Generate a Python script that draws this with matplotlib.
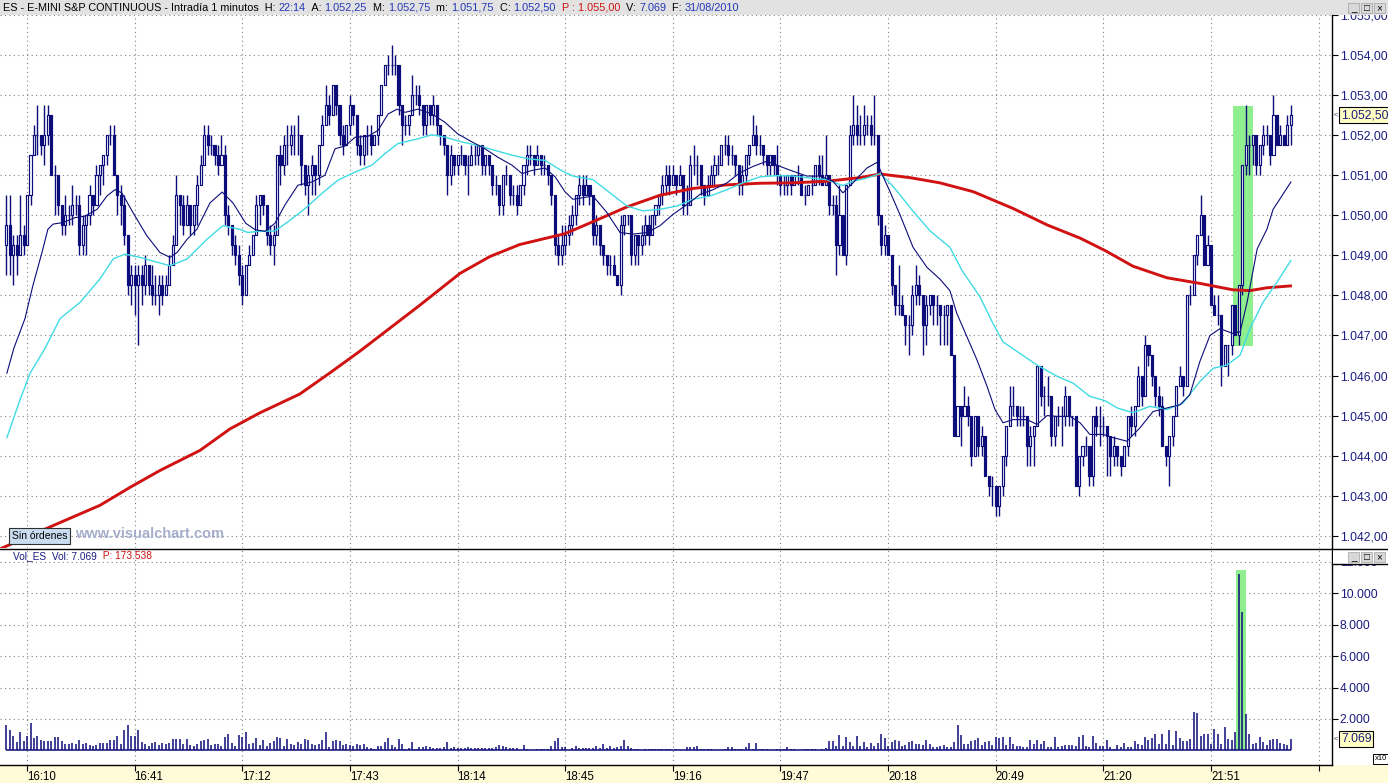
import numpy as np
import matplotlib.pyplot as plt
from matplotlib.patches import Rectangle
from matplotlib.collections import LineCollection, PatchCollection
from matplotlib.lines import Line2D
from matplotlib.transforms import blended_transform_factory


###########################################################################
#                                  DATA                                   #
###########################################################################

# ES e-mini S&P, 1 minute bars, 31/08/2010, first bar 16:04, last bar 22:14
start_minute = 16 * 60 + 4
first_open = 1049.25

closes = [
    1049.75, 1049.0, 1049.25, 1049.0, 1049.5, 1049.25, 1050.5, 1051.5, 1052.0, 1052.0,
    1051.75, 1052.0, 1052.5, 1051.0, 1051.0, 1050.25, 1049.75, 1050.0, 1050.0, 1050.25,
    1050.25, 1049.25, 1049.75, 1050.0, 1050.5, 1050.25, 1051.0, 1051.25, 1051.5, 1052.0,
    1052.0, 1051.0, 1050.5, 1050.25, 1049.5, 1048.25, 1048.5, 1048.25, 1048.5, 1048.25,
    1048.75, 1048.25, 1048.0, 1048.0, 1048.25, 1048.0, 1048.25, 1048.75, 1049.25, 1050.5,
    1050.25, 1049.75, 1050.25, 1049.75, 1050.25, 1050.75, 1051.25, 1052.0, 1051.75, 1051.75,
    1051.5, 1051.25, 1051.5, 1050.0, 1049.75, 1049.25, 1049.0, 1048.5, 1048.0, 1048.75,
    1049.0, 1049.5, 1050.25, 1050.5, 1050.25, 1049.5, 1049.25, 1049.5, 1051.5, 1051.25,
    1051.75, 1051.75, 1052.0, 1052.0, 1052.0, 1051.25, 1050.75, 1051.0, 1051.25, 1051.0,
    1051.75, 1052.25, 1052.75, 1052.5, 1053.25, 1052.75, 1052.0, 1051.75, 1052.25, 1052.75,
    1052.5, 1051.75, 1051.5, 1052.0, 1052.0, 1051.75, 1052.0, 1052.5, 1053.25, 1053.75,
    1053.75, 1053.75, 1053.75, 1052.75, 1052.25, 1052.25, 1052.5, 1053.0, 1053.0, 1052.75,
    1052.25, 1052.75, 1052.5, 1052.75, 1052.25, 1052.0, 1051.75, 1051.0, 1051.5, 1051.25,
    1051.5, 1051.5, 1051.25, 1051.25, 1051.5, 1051.5, 1051.75, 1051.25, 1051.5, 1051.25,
    1050.75, 1050.75, 1050.25, 1051.0, 1051.0, 1050.5, 1050.5, 1050.25, 1050.75, 1051.25,
    1051.5, 1051.5, 1051.25, 1051.5, 1051.25, 1051.25, 1051.0, 1050.5, 1049.25, 1049.0,
    1049.25, 1049.5, 1049.75, 1050.0, 1050.5, 1050.75, 1050.5, 1050.75, 1050.5, 1049.5,
    1049.75, 1049.25, 1049.0, 1048.75, 1048.75, 1048.5, 1048.25, 1049.75, 1050.0, 1050.0,
    1049.0, 1049.5, 1049.25, 1049.5, 1049.75, 1049.5, 1050.0, 1050.25, 1050.5, 1050.75,
    1051.0, 1050.75, 1051.0, 1050.75, 1051.0, 1050.25, 1050.25, 1051.25, 1051.25, 1051.25,
    1050.75, 1050.5, 1050.75, 1051.0, 1051.25, 1051.25, 1051.75, 1051.75, 1051.5, 1051.5,
    1051.25, 1050.75, 1051.0, 1051.5, 1051.75, 1052.0, 1051.75, 1051.75, 1051.5, 1051.25,
    1051.5, 1051.25, 1051.0, 1050.75, 1050.75, 1051.0, 1050.75, 1051.0, 1051.0, 1050.5,
    1050.5, 1050.75, 1050.75, 1051.25, 1051.0, 1050.75, 1051.0, 1050.25, 1050.25, 1049.25,
    1050.0, 1049.0, 1050.75, 1052.0, 1052.25, 1052.0, 1052.0, 1052.25, 1052.25, 1052.0,
    1052.0, 1050.0, 1049.25, 1049.5, 1049.0, 1048.25, 1047.75, 1047.75, 1047.5, 1047.25,
    1047.25, 1048.0, 1048.25, 1048.0, 1047.25, 1047.75, 1048.0, 1047.75, 1047.75, 1047.5,
    1047.5, 1047.75, 1046.5, 1044.5, 1045.25, 1045.0, 1045.25, 1045.0, 1044.0, 1045.0,
    1044.25, 1044.5, 1043.5, 1043.25, 1043.25, 1042.75, 1043.25, 1044.0, 1044.75, 1045.25,
    1045.25, 1045.0, 1045.0, 1045.0, 1044.25, 1044.5, 1044.75, 1046.25, 1045.5, 1045.5,
    1045.5, 1044.5, 1045.0, 1045.0, 1045.0, 1045.5, 1045.0, 1045.0, 1043.25, 1044.0,
    1044.25, 1044.25, 1043.5, 1045.0, 1044.75, 1044.75, 1044.75, 1044.5, 1044.0, 1044.25,
    1044.0, 1043.75, 1044.25, 1045.0, 1044.75, 1045.25, 1046.0, 1045.5, 1046.75, 1046.5,
    1046.0, 1045.5, 1045.25, 1044.25, 1044.0, 1044.5, 1045.0, 1045.75, 1046.0, 1045.75,
    1048.0, 1048.0, 1049.0, 1049.5, 1050.0, 1048.75, 1049.25, 1047.75, 1047.5, 1047.5,
    1046.25, 1046.75, 1046.75, 1047.75, 1047.0, 1048.25, 1051.25, 1051.75, 1051.75, 1052.0,
    1051.25, 1051.75, 1052.0, 1052.0, 1051.5, 1052.5, 1051.75, 1052.0, 1051.75, 1052.25,
    1052.5,
]

highs = [
    1050.5, 1050.5, 1049.5, 1049.5, 1050.5, 1049.75, 1050.5, 1051.5, 1052.25, 1052.75,
    1052.0, 1052.75, 1052.75, 1052.5, 1051.25, 1050.75, 1050.25, 1050.5, 1050.25, 1050.75,
    1050.5, 1050.5, 1050.0, 1050.0, 1050.75, 1050.5, 1051.25, 1051.25, 1051.5, 1052.0,
    1052.25, 1052.25, 1051.0, 1050.75, 1050.5, 1049.5, 1048.75, 1048.75, 1048.75, 1048.75,
    1049.0, 1048.75, 1048.75, 1048.5, 1048.5, 1048.5, 1048.5, 1049.0, 1049.5, 1051.0,
    1050.5, 1050.5, 1050.5, 1050.0, 1050.25, 1051.0, 1051.5, 1052.25, 1052.25, 1052.0,
    1051.75, 1051.75, 1052.0, 1051.75, 1050.25, 1049.5, 1049.5, 1049.25, 1048.75, 1048.75,
    1049.25, 1049.5, 1050.5, 1050.5, 1050.5, 1050.25, 1049.75, 1049.75, 1051.5, 1051.75,
    1052.0, 1052.25, 1052.25, 1052.25, 1052.5, 1051.75, 1051.25, 1051.25, 1051.5, 1051.25,
    1051.75, 1052.5, 1053.25, 1053.0, 1053.25, 1053.25, 1052.5, 1052.25, 1052.25, 1053.0,
    1052.75, 1052.5, 1052.0, 1052.0, 1052.25, 1052.25, 1052.0, 1052.5, 1053.25, 1053.75,
    1054.0, 1054.25, 1054.0, 1053.5, 1052.5, 1052.5, 1052.5, 1053.5, 1053.25, 1053.25,
    1052.75, 1052.75, 1052.75, 1053.0, 1052.75, 1052.25, 1052.0, 1051.5, 1051.75, 1051.5,
    1051.5, 1051.75, 1051.5, 1051.5, 1051.75, 1051.75, 1051.75, 1051.75, 1051.5, 1051.5,
    1051.25, 1051.0, 1050.75, 1051.0, 1051.25, 1051.0, 1050.75, 1050.75, 1050.75, 1051.25,
    1051.75, 1051.75, 1051.5, 1051.75, 1051.5, 1051.5, 1051.25, 1051.0, 1050.5, 1049.5,
    1049.75, 1049.75, 1050.0, 1050.25, 1050.5, 1051.0, 1051.0, 1051.0, 1050.75, 1050.5,
    1050.0, 1049.75, 1049.25, 1049.0, 1049.0, 1049.0, 1048.5, 1050.0, 1050.0, 1050.0,
    1050.0, 1049.5, 1049.5, 1049.75, 1050.0, 1050.0, 1050.0, 1050.25, 1050.5, 1051.0,
    1051.25, 1051.25, 1051.25, 1051.0, 1051.25, 1051.0, 1050.75, 1051.5, 1051.75, 1051.5,
    1051.25, 1050.75, 1051.0, 1051.25, 1051.5, 1051.5, 1051.75, 1052.0, 1052.0, 1051.75,
    1051.5, 1051.25, 1051.25, 1051.5, 1051.75, 1052.5, 1052.25, 1052.0, 1051.75, 1051.5,
    1051.5, 1051.5, 1051.75, 1051.0, 1051.0, 1051.0, 1051.0, 1051.0, 1051.25, 1051.0,
    1050.75, 1050.75, 1051.0, 1051.25, 1051.5, 1051.5, 1052.0, 1051.0, 1050.5, 1050.5,
    1050.75, 1049.5, 1050.75, 1052.25, 1053.0, 1052.75, 1052.5, 1052.75, 1052.5, 1052.5,
    1053.0, 1052.0, 1050.0, 1049.75, 1049.5, 1049.0, 1048.25, 1048.75, 1048.0, 1047.5,
    1047.5, 1048.25, 1048.75, 1048.5, 1048.0, 1048.0, 1048.0, 1048.0, 1048.0, 1047.75,
    1047.75, 1047.75, 1047.5, 1046.5, 1045.25, 1045.25, 1045.75, 1045.5, 1045.0, 1045.0,
    1045.0, 1044.75, 1044.25, 1043.5, 1043.5, 1043.25, 1043.25, 1044.0, 1044.75, 1045.75,
    1045.75, 1045.25, 1045.25, 1045.25, 1045.0, 1044.75, 1044.75, 1046.25, 1046.25, 1045.75,
    1046.0, 1045.5, 1045.0, 1045.25, 1045.25, 1045.75, 1045.5, 1045.0, 1045.0, 1044.0,
    1044.25, 1044.5, 1044.25, 1045.0, 1045.25, 1045.25, 1045.0, 1044.75, 1044.5, 1044.5,
    1044.25, 1044.0, 1044.25, 1045.0, 1045.25, 1045.25, 1046.25, 1046.0, 1047.0, 1046.75,
    1046.5, 1046.0, 1045.75, 1045.5, 1044.25, 1044.5, 1045.0, 1045.75, 1046.25, 1046.0,
    1048.0, 1048.25, 1049.0, 1049.5, 1050.5, 1050.0, 1049.5, 1049.25, 1048.0, 1048.0,
    1047.5, 1046.75, 1046.75, 1047.75, 1047.75, 1048.25, 1051.25, 1052.75, 1052.0, 1052.0,
    1052.0, 1051.75, 1052.25, 1052.25, 1052.0, 1053.0, 1052.5, 1052.25, 1052.0, 1052.5,
    1052.75,
]

lows = [
    1048.5, 1048.5, 1048.25, 1048.5, 1049.0, 1049.0, 1049.25, 1050.25, 1051.5, 1051.5,
    1051.5, 1051.25, 1051.75, 1051.0, 1050.0, 1050.0, 1049.5, 1049.5, 1049.75, 1049.75,
    1050.0, 1049.0, 1049.0, 1049.0, 1049.75, 1050.0, 1050.25, 1050.5, 1050.75, 1051.25,
    1051.75, 1051.0, 1050.0, 1049.75, 1049.25, 1048.0, 1047.75, 1047.5, 1046.75, 1047.75,
    1048.0, 1048.0, 1047.75, 1047.75, 1047.5, 1047.75, 1048.0, 1048.25, 1048.75, 1049.25,
    1049.75, 1049.5, 1049.75, 1049.5, 1049.5, 1049.75, 1050.75, 1051.25, 1051.5, 1051.5,
    1051.25, 1051.0, 1051.25, 1049.75, 1049.5, 1049.0, 1048.75, 1048.25, 1047.75, 1048.0,
    1048.75, 1049.0, 1049.75, 1049.75, 1050.0, 1049.25, 1049.0, 1048.75, 1049.75, 1050.75,
    1051.0, 1051.25, 1051.5, 1051.5, 1051.5, 1050.75, 1050.5, 1050.0, 1050.5, 1050.5,
    1050.75, 1051.75, 1052.25, 1052.25, 1052.5, 1052.5, 1051.75, 1051.5, 1051.75, 1052.0,
    1052.25, 1051.5, 1051.25, 1051.25, 1051.5, 1051.5, 1051.75, 1051.75, 1052.5, 1053.25,
    1053.5, 1053.5, 1053.5, 1052.5, 1051.75, 1052.0, 1052.0, 1052.5, 1052.75, 1052.5,
    1052.0, 1052.0, 1052.25, 1052.25, 1052.0, 1051.75, 1051.5, 1050.5, 1050.75, 1051.0,
    1051.0, 1051.25, 1051.0, 1050.5, 1051.25, 1051.25, 1051.25, 1051.0, 1051.0, 1051.0,
    1050.5, 1050.5, 1050.0, 1050.0, 1050.75, 1050.25, 1050.25, 1050.0, 1050.25, 1050.5,
    1051.0, 1051.25, 1051.0, 1051.25, 1051.0, 1051.0, 1050.75, 1050.25, 1049.0, 1048.75,
    1048.75, 1049.0, 1049.25, 1049.5, 1049.75, 1050.25, 1050.25, 1050.5, 1050.25, 1049.25,
    1049.25, 1049.0, 1048.75, 1048.5, 1048.5, 1048.5, 1048.25, 1048.0, 1049.5, 1049.75,
    1048.75, 1048.75, 1048.75, 1049.0, 1049.25, 1049.25, 1049.5, 1049.75, 1050.0, 1050.25,
    1050.5, 1050.5, 1050.75, 1050.5, 1050.75, 1050.0, 1050.0, 1050.25, 1051.0, 1050.75,
    1050.5, 1050.25, 1050.5, 1050.75, 1050.75, 1051.0, 1051.25, 1051.5, 1051.25, 1051.25,
    1051.0, 1050.5, 1050.5, 1050.75, 1051.25, 1051.75, 1051.5, 1051.5, 1051.25, 1051.0,
    1051.0, 1051.0, 1050.75, 1050.5, 1050.5, 1050.5, 1050.5, 1050.75, 1050.75, 1050.5,
    1050.25, 1050.5, 1050.5, 1050.75, 1050.75, 1050.75, 1050.75, 1050.0, 1050.0, 1048.5,
    1049.0, 1049.0, 1048.75, 1050.75, 1051.75, 1051.75, 1051.75, 1051.75, 1052.0, 1051.75,
    1051.75, 1049.75, 1049.0, 1049.0, 1049.0, 1048.0, 1047.5, 1047.5, 1047.5, 1046.75,
    1046.5, 1047.0, 1047.75, 1047.75, 1046.5, 1046.75, 1047.5, 1047.25, 1047.25, 1046.75,
    1046.75, 1046.75, 1046.5, 1044.5, 1044.5, 1044.25, 1045.0, 1044.75, 1043.75, 1044.0,
    1044.0, 1044.0, 1043.5, 1043.0, 1042.75, 1042.5, 1042.5, 1043.0, 1043.75, 1044.75,
    1045.0, 1044.75, 1044.75, 1044.75, 1043.75, 1043.75, 1043.75, 1044.75, 1045.25, 1045.0,
    1045.25, 1044.25, 1044.25, 1044.75, 1044.25, 1044.75, 1044.75, 1044.75, 1043.25, 1043.0,
    1043.75, 1044.0, 1043.25, 1043.25, 1044.5, 1044.25, 1044.5, 1043.5, 1043.5, 1043.75,
    1043.75, 1043.5, 1043.75, 1044.0, 1044.5, 1044.5, 1045.25, 1045.25, 1045.5, 1046.25,
    1045.75, 1045.25, 1045.0, 1044.25, 1043.75, 1043.25, 1044.25, 1045.0, 1045.75, 1045.5,
    1045.75, 1047.75, 1048.0, 1048.75, 1049.5, 1048.75, 1048.75, 1047.75, 1047.5, 1047.25,
    1045.75, 1046.25, 1046.0, 1046.5, 1047.0, 1046.75, 1048.0, 1051.0, 1051.0, 1051.25,
    1051.0, 1051.0, 1051.5, 1051.75, 1051.25, 1051.75, 1051.75, 1051.75, 1051.75, 1051.75,
    1051.75,
]

# volume in scale units (the scale reads x10)
volume = [
    1640, 1280, 900, 525, 1155, 610, 900, 1720, 780, 900,
    650, 590, 590, 590, 840, 840, 590, 400, 400, 460,
    400, 650, 400, 460, 315, 270, 315, 460, 460, 460,
    650, 650, 900, 400, 1280, 1640, 900, 900, 1280, 525,
    400, 270, 460, 525, 315, 460, 400, 460, 715, 715,
    715, 400, 715, 335, 270, 400, 590, 650, 715, 315,
    380, 400, 250, 840, 1030, 460, 250, 965, 840, 1155,
    400, 460, 780, 315, 650, 250, 460, 590, 840, 780,
    270, 715, 400, 315, 525, 380, 715, 650, 400, 355,
    400, 650, 1155, 210, 590, 650, 590, 335, 400, 335,
    250, 380, 335, 400, 190, 125, 85, 270, 270, 525,
    780, 335, 190, 715, 400, 85, 125, 525, 85, 210,
    190, 270, 210, 150, 150, 150, 210, 525, 150, 190,
    125, 150, 150, 190, 150, 150, 125, 150, 150, 150,
    150, 210, 335, 270, 210, 150, 150, 150, 40, 335,
    85, 40, 40, 85, 85, 85, 85, 270, 590, 780,
    210, 210, 40, 150, 270, 150, 150, 150, 150, 150,
    270, 150, 400, 150, 270, 150, 210, 270, 650, 270,
    150, 85, 85, 40, 85,
    65, 110, 65, 110, 90, 65, 65, 45, 65, 30,
    30, 180, 180, 180, 245, 65, 110, 65, 110, 45,
    30, 45, 65, 180, 180, 65, 110, 110, 180, 445,
    110, 445, 110, 65, 110, 45, 30, 110, 65, 110,
    180, 65, 65, 30, 30, 65, 110, 110, 110, 30,
    65, 135, 580, 580, 290, 980, 245, 845, 535, 245,
    910, 245, 510, 180, 445, 245, 445, 1045, 780, 245,
    510, 645, 580, 245, 310, 510, 580, 400, 400, 310,
    645, 400, 180, 180, 245, 310, 180, 200, 510, 1580,
    980, 400, 400, 580, 645, 780, 310, 510, 580, 310,
    845, 780, 845, 310, 845, 400, 245, 245, 180, 180,
    645, 400, 645, 400, 580, 180, 180, 845, 180, 245,
    310, 310, 310, 245, 845, 980, 245, 180, 910, 445,
    245, 245, 645, 180, 65, 310, 180, 445, 180, 180,
    580, 400, 310, 845, 645, 780, 1045, 400, 1045, 400,
    1310, 310, 1245, 780, 580, 580, 710, 2440, 2375, 910,
    1045, 1045, 400, 1380, 1045, 400, 1515, 710, 645, 1155,
    11240, 8780, 2310, 1045, 400, 445, 845, 510, 310, 645,
    710, 710, 445, 400, 310, 706.9,
]

# moving averages as (bar, price)
fast_ma = [
    (0.2, 1046.06), (2.2, 1046.68), (5.4, 1047.42), (7.7, 1048.25), (10.3, 1049.07),
    (12, 1049.65), (13.5, 1049.78), (16.4, 1049.82), (19.8, 1049.94), (22.7, 1049.98),
    (26.2, 1050.15), (29, 1050.48), (31.3, 1050.64), (33.3, 1050.56), (36.5, 1050.07),
    (40.5, 1049.49), (44.3, 1049.07), (47.2, 1048.95), (49.2, 1049.07), (52.1, 1049.4),
    (54.9, 1049.65), (58.7, 1050.31), (62.2, 1050.58), (65.3, 1050.31), (69, 1049.8),
    (71.7, 1049.64), (74.5, 1049.6), (77.4, 1049.8), (80.3, 1050.26), (84, 1050.75),
    (88, 1050.83), (91.8, 1051.0), (94.7, 1051.66), (97.6, 1051.73), (100.5, 1051.95),
    (104.2, 1051.97), (107.1, 1052.12), (110, 1052.53), (112.6, 1052.65), (114.9, 1052.57),
    (118.6, 1052.65), (122.6, 1052.53), (126.4, 1052.32), (130.1, 1052.03), (134.2, 1051.83),
    (137.9, 1051.66), (141.6, 1051.45), (145.7, 1051.25), (148.6, 1051.04), (151.4, 1051.12),
    (155.2, 1051.18), (158.1, 1050.96), (161, 1050.58), (163.2, 1050.4), (169, 1050.48),
    (173, 1050.07), (176.8, 1049.57), (180.5, 1049.53), (184.6, 1049.57), (188.3, 1049.74),
    (192, 1050.02), (196.1, 1050.27), (199.8, 1050.52), (203.6, 1050.64), (207.6, 1050.81),
    (211.3, 1051.06), (215.1, 1051.22), (219.1, 1051.35), (222.9, 1051.22), (226.6, 1051.1),
    (230.6, 1050.98), (234.4, 1050.98), (238.1, 1050.85), (241, 1050.56), (243.9, 1050.81),
    (247.9, 1051.18), (250.8, 1051.32), (252.5, 1050.98), (254.5, 1050.6), (257.4, 1050.02),
    (261.2, 1049.2), (265.2, 1048.7), (268.9, 1048.41), (271.8, 1048.12), (273.8, 1047.55),
    (276.7, 1046.97), (279.6, 1046.39), (282.5, 1045.73), (284.8, 1045.15), (287.1, 1044.82),
    (290, 1044.9), (294, 1044.9), (296.9, 1044.78), (299.8, 1045.0), (302.7, 1044.98),
    (306.4, 1044.98), (309.3, 1044.82), (312.1, 1044.53), (315.9, 1044.53), (318.8, 1044.45),
    (322.8, 1044.36), (326.6, 1044.7), (330.3, 1045.1), (334.3, 1045.19), (338.1, 1045.27),
    (340.9, 1045.52), (343.8, 1046.35), (346.7, 1047.0), (349.6, 1047.17), (353.3, 1047.05),
    (355.4, 1047.09), (357.4, 1047.83), (360.3, 1049.16), (363.1, 1049.65), (364.9, 1050.15),
    (367.4, 1050.48), (370, 1050.83),
]

mid_ma = [
    (0.2, 1044.45), (4, 1045.4), (6.9, 1046.06), (11.2, 1046.68), (15.5, 1047.42),
    (21.3, 1047.83), (27, 1048.41), (30.8, 1048.91), (34.2, 1049.03), (38.5, 1048.95),
    (43.4, 1048.83), (47.2, 1048.74), (52.1, 1048.91), (57.8, 1049.4), (62.4, 1049.74),
    (67.3, 1049.65), (69.6, 1049.57), (72.5, 1049.6), (77.4, 1049.61), (81.2, 1049.84),
    (86.1, 1050.17), (91, 1050.55), (95.6, 1050.88), (100.5, 1051.08), (105.3, 1051.25),
    (109.1, 1051.54), (112.8, 1051.79), (118.6, 1051.91), (122.6, 1052.01), (126.4, 1051.95),
    (131.3, 1051.83), (135.9, 1051.74), (140.8, 1051.62), (145.7, 1051.5), (150.3, 1051.41),
    (155.2, 1051.37), (158.9, 1051.17), (161, 1051.07), (163.2, 1050.98), (169, 1050.89),
    (173.9, 1050.56), (178.8, 1050.23), (183.4, 1050.11), (188.3, 1050.15), (193.2, 1050.23),
    (197.8, 1050.4), (202.7, 1050.48), (207.6, 1050.64), (212.2, 1050.81), (217.1, 1050.96),
    (222, 1050.99), (226.6, 1050.98), (231.5, 1050.93), (236.4, 1050.89), (241, 1050.74),
    (243.9, 1050.85), (247.9, 1050.93), (251.7, 1051.04), (254.5, 1050.81), (256.6, 1050.6),
    (261.2, 1050.1), (266.1, 1049.61), (271.8, 1049.2), (275.3, 1048.62), (280.5, 1047.96),
    (284.2, 1047.3), (287.1, 1046.84), (292, 1046.55), (296.9, 1046.26), (302.7, 1045.98),
    (307.3, 1045.81), (312.1, 1045.48), (316.5, 1045.37), (320, 1045.19), (324.5, 1045.07),
    (329.4, 1045.23), (334.3, 1045.15), (338.9, 1045.31), (343.8, 1045.85), (347.6, 1046.18),
    (351.6, 1046.26), (355.4, 1046.51), (358.2, 1047.17), (362, 1047.83), (366, 1048.33),
    (370, 1048.87),
]

slow_ma = [
    (-1.8, 1041.67), (12.6, 1042.22), (27, 1042.76), (35.7, 1043.21), (44.3, 1043.63),
    (55.8, 1044.13), (64.5, 1044.67), (73.1, 1045.07), (84.6, 1045.54), (93.3, 1046.07),
    (101.9, 1046.61), (119.2, 1047.76), (130.7, 1048.55), (139.3, 1048.97), (147.9, 1049.27),
    (160.9, 1049.54), (169, 1049.84), (178.8, 1050.21), (188.3, 1050.5), (197.8, 1050.67),
    (207.6, 1050.76), (217.1, 1050.8), (226.6, 1050.81), (236.4, 1050.85), (245.9, 1050.94),
    (251.7, 1051.03), (260.3, 1050.94), (268.9, 1050.81), (278.5, 1050.59), (290, 1050.17),
    (299.8, 1049.76), (309.3, 1049.43), (316.5, 1049.12), (324.5, 1048.73), (334.3, 1048.44),
    (343.8, 1048.3), (353.3, 1048.14), (358.2, 1048.12), (363.1, 1048.19), (370.3, 1048.24),
]

# hand drawn highlight boxes (bar from, bar to, low, high)
price_box = (353.3, 359.1, 1046.73, 1052.73)
volume_box = (354.2, 357.1, 0, 11480)

price_levels = list(range(1042, 1056))
volume_levels = [2000, 4000, 6000, 8000, 10000, 12000]
tick_every = 31
first_tick = 6
session_date = "31/08/2010"
header_p = "1.055,00"
header_total = "173.538"


###########################################################################
#                              PREPARATION                                #
###########################################################################

plt.rcParams['font.family'] = ['Liberation Sans', 'DejaVu Sans']

closes = np.array(closes)
opens = np.concatenate([[first_open], closes[:-1]])
highs = np.maximum(np.array(highs), np.maximum(opens, closes))
lows = np.minimum(np.array(lows), np.minimum(opens, closes))
volume = np.array(volume)
bars = np.arange(len(closes))


def es_num(v, dec=2):
    s = f"{v:,.{dec}f}"
    return s.replace(",", "#").replace(".", ",").replace("#", ".")


def hhmm(bar):
    m = start_minute + int(bar)
    return f"{m // 60:02d}:{m % 60:02d}"


NAVY = '#0c0c7a'
TXT = '#1c1c80'
VALUE = '#2336b8'
CYAN = '#3fdbe4'
RED = '#d01212'
GREEN = '#8fef8f'
GRID = '#808080'
DOTS = (0, (1, 3))

W, H = 1388, 783
X0, STEP = 6.2, 3.472       # pixel of bar 0, pixels per bar
RIGHT = 1332                # left edge of the scale column


def fx(px):
    return px / W


def fy(py):
    return 1 - py / H


fig = plt.figure(figsize=(W / 100, H / 100), dpi=100)
fig.patch.set_facecolor('white')

ax_p = fig.add_axes([0, fy(548), fx(RIGHT), fy(15) - fy(548)])
ax_v = fig.add_axes([0, fy(765), fx(RIGHT), fy(549) - fy(765)], sharex=ax_p)

ax_p.set_xlim((0 - X0) / STEP, (RIGHT - X0) / STEP)
ax_p.set_ylim(1054 - (548 - 52.7) / 40.25, 1054 + (52.7 - 15) / 40.25)
ax_v.set_ylim(-(765 - 750.3) * 1000 / 15.7, (750.3 - 549) * 1000 / 15.7)

for ax in (ax_p, ax_v):
    ax.set_facecolor('white')
    ax.set_axisbelow(True)
    for side in ('left', 'top'):
        ax.spines[side].set_visible(False)
    ax.spines['right'].set_color('black')
    ax.spines['right'].set_linewidth(1.0)
ax_p.spines['bottom'].set_visible(False)
ax_v.spines['bottom'].set_linewidth(1.0)


###########################################################################
#                              PRICE PANEL                                #
###########################################################################

ax_p.add_patch(Rectangle((price_box[0], price_box[2]), price_box[1] - price_box[0],
                         price_box[3] - price_box[2], facecolor=GREEN,
                         edgecolor='none', zorder=1))

wicks = LineCollection([[(i, l), (i, h)] for i, l, h in zip(bars, lows, highs)],
                       colors=NAVY, linewidths=1.0, zorder=3)
ax_p.add_collection(wicks)

BW = 0.6
bodies = [Rectangle((i - BW / 2, min(o, c)), BW, abs(c - o))
          for i, o, c in zip(bars, opens, closes)]
faces = ['white' if c >= o else NAVY for o, c in zip(opens, closes)]
ax_p.add_collection(PatchCollection(bodies, facecolors=faces, edgecolors=NAVY,
                                    linewidths=0.85, zorder=4))

ax_p.plot(*zip(*slow_ma), color=RED, lw=2.1, zorder=5, solid_capstyle='butt')
ax_p.plot(*zip(*mid_ma), color=CYAN, lw=1.0, zorder=5)
ax_p.plot(*zip(*fast_ma), color=NAVY, lw=0.8, zorder=6)

ax_p.yaxis.tick_right()
ax_p.set_yticks(price_levels)
ax_p.set_yticklabels([es_num(v) for v in price_levels])
ax_p.tick_params(axis='y', direction='out', length=4, width=0.8, pad=1.5,
                 labelsize=8.7, labelcolor=TXT)
ax_p.tick_params(axis='x', length=0, labelbottom=False)
ax_p.grid(True, color=GRID, linestyle=DOTS, linewidth=0.8)

# last price flag
tp = blended_transform_factory(fig.transFigure, ax_p.transData)
ax_p.text(fx(1341), closes[-1], es_num(closes[-1]), transform=tp, fontsize=8.7,
          color=TXT, va='center', ha='left', clip_on=False, zorder=10,
          bbox=dict(boxstyle='square,pad=0.15', facecolor='#ffffc4', edgecolor='black', lw=0.8))
ax_p.text(fx(1334), closes[-1], '<', transform=tp, fontsize=5.5, color='#404040',
          va='center', ha='left', clip_on=False)

fig.text(fx(12), fy(536), "Sin órdenes", fontsize=7.5, color='black', va='center',
         bbox=dict(boxstyle='square,pad=0.25', facecolor='#c9dcf0', edgecolor='#303030', lw=0.8))
fig.text(fx(75), fy(533.5), "www.visualchart.com", fontsize=10.5, fontweight='bold',
         color='#a7aecb', va='center')


###########################################################################
#                              VOLUME PANEL                               #
###########################################################################

ax_v.add_patch(Rectangle((volume_box[0], volume_box[2]), volume_box[1] - volume_box[0],
                         volume_box[3] - volume_box[2], facecolor=GREEN,
                         edgecolor='none', zorder=1))
ax_v.vlines(bars, 0, volume, color=NAVY, lw=1.1, zorder=3)
ax_v.hlines(0, bars[0], bars[-1], color=NAVY, lw=1.1, zorder=3)

ax_v.yaxis.tick_right()
ax_v.set_yticks(volume_levels)
ax_v.set_yticklabels([es_num(v, 0) for v in volume_levels])
ax_v.tick_params(axis='y', direction='out', length=4, width=0.8, pad=1.5,
                 labelsize=8.7, labelcolor=TXT)

tick_bars = list(range(first_tick, int(ax_p.get_xlim()[1]), tick_every))
ax_v.set_xticks(tick_bars)
ax_v.set_xticklabels([hhmm(b) if b <= bars[-1] else '' for b in tick_bars], ha='left')
ax_v.tick_params(axis='x', direction='out', length=4, width=0.8, pad=0,
                 labelsize=8.3, labelcolor='black')
ax_v.grid(True, color=GRID, linestyle=DOTS, linewidth=0.8)

tv = blended_transform_factory(fig.transFigure, ax_v.transData)
ax_v.text(fx(1341), volume[-1], es_num(volume[-1] * 10, 0), transform=tv, fontsize=8.7,
          color=TXT, va='center', ha='left', clip_on=False, zorder=10,
          bbox=dict(boxstyle='square,pad=0.15', facecolor='#ffffc4', edgecolor='black', lw=0.8))
ax_v.text(fx(1334), volume[-1], '<', transform=tv, fontsize=5.5, color='#404040',
          va='center', ha='left', clip_on=False)
fig.text(fx(1375), fy(759), "x10", fontsize=5.5, color='black', va='center',
         bbox=dict(boxstyle='square,pad=0.2', facecolor='white', edgecolor='black', lw=0.7))

v_label = fig.text(fx(13), fy(556), f"Vol_ES  Vol: {es_num(volume[-1] * 10, 0)}",
                   fontsize=7.3, color=TXT, va='center')
ax_v.annotate(f"  P: {header_total}", xy=(1, 0), xycoords=v_label, va='bottom',
              ha='left', fontsize=7.3, color=RED, annotation_clip=False)


###########################################################################
#                           FRAME DECORATIONS                             #
###########################################################################

# backgrounds sit under the panels, lines and texts on top
fig.patches.append(Rectangle((0, fy(15)), 1, 15 / H, transform=fig.transFigure,
                             facecolor='#e2e2e2', edgecolor='none', zorder=-2))
fig.patches.append(Rectangle((0, 0), 1, fy(765), transform=fig.transFigure,
                             facecolor='#fffad8', edgecolor='none', zorder=-2))
# the scale column tops hide the half shown top labels, as in the original
fig.patches.append(Rectangle((fx(RIGHT + 1), fy(15)), 1, 15 / H, transform=fig.transFigure,
                             facecolor='#e2e2e2', edgecolor='none', zorder=2))
fig.patches.append(Rectangle((fx(RIGHT + 1), fy(564)), 1, 15 / H, transform=fig.transFigure,
                             facecolor='white', edgecolor='none', zorder=2))
fig.lines.append(Line2D([0, 1], [fy(549), fy(549)], transform=fig.transFigure,
                        color='black', lw=1.0, zorder=3))
fig.lines.append(Line2D([fx(RIGHT), 1], [fy(564), fy(564)], transform=fig.transFigure,
                        color='black', lw=1.0, zorder=3))

# window buttons
for top in (3, 552):
    for left, glyph in ((1348, '_'), (1361, '□'), (1374, '×')):
        fig.patches.append(Rectangle((fx(left), fy(top + 10)), 11 / W, 10 / H,
                                     transform=fig.transFigure, facecolor='#d8d8d8',
                                     edgecolor='#a0a0a0', lw=0.5, zorder=3))
        fig.text(fx(left + 5.5), fy(top + 5), glyph, fontsize=7, ha='center',
                 va='center', color='black', zorder=4)

# header line
pieces = [
    ("ES - E-MINI S&P CONTINUOUS - Intradía 1 minutos  H: ", 'black'),
    (hhmm(bars[-1]), VALUE),
    ("  A: ", 'black'), (es_num(opens[-1]), VALUE),
    ("  M: ", 'black'), (es_num(highs[-1]), VALUE),
    ("  m: ", 'black'), (es_num(lows[-1]), VALUE),
    ("  C: ", 'black'), (es_num(closes[-1]), VALUE),
    ("  P : " + header_p, RED),
    ("  V: ", 'black'), (es_num(volume[-1] * 10, 0), VALUE),
    ("  F: ", 'black'), (session_date, VALUE),
]
prev = fig.text(fx(3), fy(8), pieces[0][0], fontsize=7.8, color=pieces[0][1], va='center')
for text, colour in pieces[1:]:
    prev = ax_p.annotate(text, xy=(1, 0), xycoords=prev, va='bottom', ha='left',
                         fontsize=7.8, color=colour, annotation_clip=False)

fig.savefig("out.png", dpi=100)
